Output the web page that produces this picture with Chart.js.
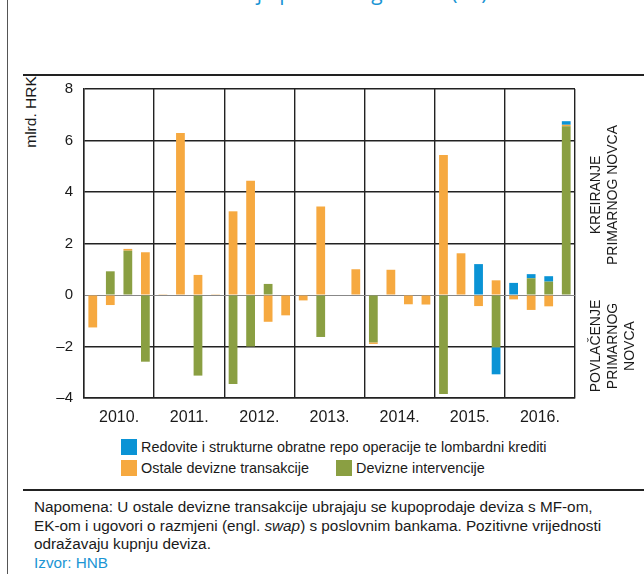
<!DOCTYPE html>
<html>
<head>
<meta charset="utf-8">
<script src="https://cdn.jsdelivr.net/npm/chart.js"></script>
<style>
  body { margin: 0; background: #fff; }
  #page { position: relative; width: 644px; height: 574px; overflow: hidden; font-family: "Liberation Sans Narrow", "Arial Narrow", sans-serif; color: #1a1a1a; }
  .abs { position: absolute; }
  #vline { left: 7px; top: 0; width: 1px; height: 574px; background: #555; }
  #title { left: 185px; top: -18px; font: 21px/21px "Open Sans", sans-serif; color: #1b95d4; white-space: nowrap; }
  .hr { left: 23px; width: 621px; height: 1.5px; background: #222; }
  #unit { left: 31px; top: 112px; font-size: 15.5px; white-space: nowrap; transform: translate(-50%, -50%) rotate(-90deg); }
  .side { font-size: 14px; line-height: 17px; text-align: center; white-space: nowrap; transform: translate(-50%, -50%) rotate(-90deg); }
  .leg { font-size: 14.4px; line-height: 18px; white-space: nowrap; }
  .sw { display: inline-block; width: 16px; height: 16px; vertical-align: -3px; margin-right: 4px; }
  #note { left: 34px; top: 498px; width: 610px; font: 15.3px/18.5px "Liberation Sans", Arial, sans-serif; color: #1a1a1a; white-space: nowrap; }
  #note .src { color: #1b95d4; }
</style>
</head>
<body>
<div id="page">
  <div id="vline" class="abs"></div>
  <div id="title" class="abs">Kreiranje primarnog novca (kn)</div>
  <div class="abs hr" style="top:74px"></div>
  <div id="unit" class="abs">mlrd. HRK</div>
  <canvas id="chart" class="abs" style="left:0;top:80px" width="644" height="345"></canvas>
  <div class="abs side" style="left:604px;top:195px">KREIRANJE<br>PRIMARNOG NOVCA</div>
  <div class="abs side" style="left:612px;top:346px">POVLAČENJE<br>PRIMARNOG<br>NOVCA</div>
  <div class="abs leg" style="left:121px;top:438px"><span class="sw" style="background:#0a93d5"></span>Redovite i strukturne obratne repo operacije te lombardni krediti</div>
  <div class="abs leg" style="left:121px;top:459px"><span class="sw" style="background:#f6a940"></span>Ostale devizne transakcije</div>
  <div class="abs leg" style="left:336px;top:459px"><span class="sw" style="background:#8a9f42"></span>Devizne intervencije</div>
  <div class="abs hr" style="top:489px"></div>
  <div id="note" class="abs">Napomena: U ostale devizne transakcije ubrajaju se kupoprodaje deviza s MF-om,<br>EK-om i ugovori o razmjeni (engl. <i>swap</i>) s poslovnim bankama. Pozitivne vrijednosti<br>odražavaju kupnju deviza.<br><span class="src">Izvor: HNB</span></div>
</div>
<script>
// Years on the axis, quarters underneath
const years = ['2010.', '2011.', '2012.', '2013.', '2014.', '2015.', '2016.'];
const quarters = [];
years.forEach(y => { for (let q = 1; q <= 4; q++) quarters.push(y + ' Q' + q); });

// Values in mlrd. HRK, one per quarter
const devizneIntervencije = [
  0, 0.92, 1.72, -2.59,
  0, 0, -3.13, 0,
  -3.46, -2.0, 0.43, 0,
  0, -1.63, 0, 0,
  -1.84, 0, 0, 0,
  -3.84, 0, 0, -2.03,
  0, 0.65, 0.52, 6.55
];
const ostaleDevizneTransakcije = [
  -1.26, -0.39, 0.07, 1.66,
  0.03, 6.29, 0.78, 0.03,
  3.25, 4.44, -1.04, -0.79,
  -0.21, 3.44, 0, 1.0,
  -0.06, 0.98, -0.36, -0.37,
  5.44, 1.62, -0.43, 0.57,
  -0.17, -0.58, -0.44, 0.06
];
const repoOperacije = [
  0, 0, 0, 0,
  0, 0, 0, 0,
  0, 0, 0, 0,
  0, 0, 0, 0,
  0, 0, 0, 0,
  0, 0, 1.2, -1.05,
  0.47, 0.16, 0.21, 0.14
];

const ctx = document.getElementById('chart').getContext('2d');
new Chart(ctx, {
  type: 'bar',
  data: {
    labels: quarters,
    datasets: [
      { label: 'Devizne intervencije', data: devizneIntervencije, backgroundColor: '#8a9f42' },
      { label: 'Ostale devizne transakcije', data: ostaleDevizneTransakcije, backgroundColor: '#f6a940' },
      { label: 'Redovite i strukturne obratne repo operacije te lombardni krediti', data: repoOperacije, backgroundColor: '#0a93d5' }
    ]
  },
  options: {
    responsive: false,
    animation: false,
    devicePixelRatio: 1,
    barPercentage: 0.5,
    categoryPercentage: 1,
    layout: { padding: { top: 9, right: 69, left: 0, bottom: 0 } },
    plugins: { legend: { display: false }, tooltip: { enabled: false } },
    scales: {
      x: { stacked: true, display: false },
      years: {
        type: 'category',
        labels: years,
        position: 'bottom',
        offset: true,
        grid: { offset: true, drawTicks: false, color: '#222', lineWidth: 1.4 },
        border: { display: true, color: '#222', width: 1.4 },
        ticks: { padding: 10, color: '#1a1a1a', font: { family: '"Liberation Sans Narrow", sans-serif', size: 16 } },
        afterFit: s => { s.height = 27; s.paddingLeft = 0; s.paddingRight = 0; }
      },
      y: {
        stacked: true,
        min: -4,
        max: 8,
        ticks: {
          stepSize: 2,
          padding: 11,
          color: '#1a1a1a',
          font: { family: '"Liberation Sans Narrow", sans-serif', size: 15 },
          callback: v => (v < 0 ? '\u2013' + Math.abs(v) : v)
        },
        grid: {
          drawTicks: false,
          color: c => (c.tick.value === 0 ? '#888' : '#222'),
          lineWidth: c => (c.tick.value === 0 ? 1 : 1.4)
        },
        border: { display: true, color: '#222', width: 1.4 },
        afterFit: s => { s.width = 84; s.paddingTop = 0; s.paddingBottom = 0; }
      }
    }
  }
});
</script>
</body>
</html>
